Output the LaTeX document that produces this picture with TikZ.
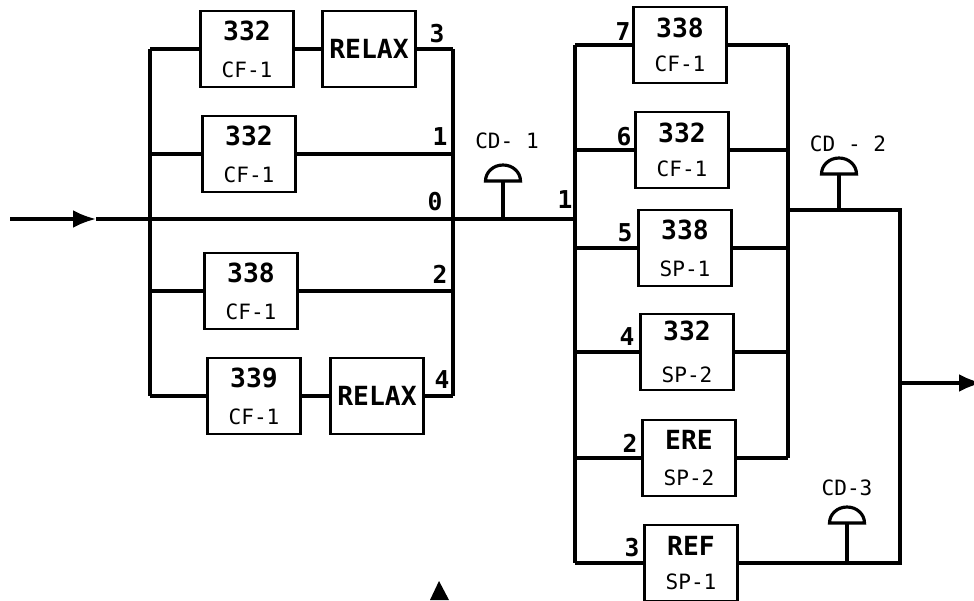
\documentclass[tikz,border=0pt]{standalone}
\usepackage{fontspec}
\setmainfont{DejaVu Sans Mono}
\usetikzlibrary{arrows.meta}
\newcommand\code[1]{{\fontsize{12}{14}\selectfont\mdseries #1}}
\tikzset{
  unit/.style={rectangle, draw, line width=1.6pt, minimum width=1.86cm,
    minimum height=1.52cm, align=center, inner sep=0pt,
    font=\fontsize{15}{18}\selectfont\bfseries},
  num/.style={inner sep=0pt, font=\fontsize{14}{16}\selectfont\bfseries},
  cdlabel/.style={inner sep=0pt, font=\fontsize{12}{14}\selectfont},
  wire/.style={line width=1.8pt},
  arrow/.style={line width=1.8pt, -{Latex[length=13pt, width=10pt]}},
  dome/.pic={\draw[line width=1.8pt, fill=white] (-0.35cm,0)
    arc[start angle=180, end angle=0, x radius=0.35cm, y radius=0.32cm] -- cycle;},
}

\begin{document}
\begin{tikzpicture}[x=0.02cm, y=-0.02cm]
  \useasboundingbox (0,0) rectangle (974,601);

  % left group
  \node[unit] (a1) at (247,49)  {332\\[3pt]\code{CF-1}};
  \node[unit] (r1) at (369,49)  {RELAX};
  \node[unit] (a2) at (249,154) {332\\[3pt]\code{CF-1}};
  \node[unit] (a3) at (251,291) {338\\[3pt]\code{CF-1}};
  \node[unit] (a4) at (254,396) {339\\[3pt]\code{CF-1}};
  \node[unit] (r4) at (377,396) {RELAX};

  \coordinate (lt) at (150,49);
  \coordinate (lb) at (150,396);
  \coordinate (rt) at (453,49);
  \coordinate (rb) at (453,396);

  \node[num] (l3) at (437,34)  {3};
  \node[num] (l1) at (440,137) {1};
  \node[num] (l0) at (435,202) {0};
  \node[num] (l2) at (440,274) {2};
  \node[num] (l4) at (442,380) {4};

  \draw[wire] (lt) -- (lb);
  \draw[wire] (rt) -- (rb);
  \draw[wire] (lt) -- (a1.west);
  \draw[wire] (a1) -- (r1);
  \draw[wire] (r1.east) -- (rt);
  \draw[wire] (a2.west -| lt) -- (a2.west);
  \draw[wire] (a2.east) -- (a2.east -| rt);
  \draw[wire] (a3.west -| lt) -- (a3.west);
  \draw[wire] (a3.east) -- (a3.east -| rt);
  \draw[wire] (lb) -- (a4.west);
  \draw[wire] (a4) -- (r4);
  \draw[wire] (r4.east) -- (rb);

  % main line
  \coordinate (in)  at (10,219);
  \coordinate (mid) at (96,219);
  \draw[arrow] (in) -- (mid);

  % right group
  \node[unit] (b7) at (680,45)  {338\\[1pt]\code{CF-1}};
  \node[unit] (b6) at (682,150) {332\\[1pt]\code{CF-1}};
  \node[unit] (b5) at (685,248) {338\\[3pt]\code{SP-1}};
  \node[unit] (b4) at (687,352) {332\\[6pt]\code{SP-2}};
  \node[unit] (b2) at (689,458) {ERE\\[3pt]\code{SP-2}};
  \node[unit] (b3) at (691,563) {REF\\[1pt]\code{SP-1}};

  \coordinate (bt) at (575,45);
  \coordinate (bb) at (575,563);
  \coordinate (ct) at (788,45);
  \coordinate (cb) at (788,458);

  \node[num] (m7) at (623,32)  {7};
  \node[num] (m6) at (624,137) {6};
  \node[num] (m1) at (565,200) {1};
  \node[num] (m5) at (625,233) {5};
  \node[num] (m4) at (627,337) {4};
  \node[num] (m2) at (630,443) {2};
  \node[num] (m3) at (632,548) {3};

  \draw[wire] (mid) -- (mid -| bt);
  \draw[wire] (bt) -- (bb);
  \draw[wire] (ct) -- (cb);
  \foreach \b in {b7,b6,b5,b4,b2} {
    \draw[wire] (\b.west -| bt) -- (\b.west);
    \draw[wire] (\b.east) -- (\b.east -| ct);
  }
  \draw[wire] (bb) -- (b3.west);

  % output side
  \coordinate (ot)  at (900,210);
  \coordinate (ob)  at (900,563);
  \coordinate (out) at (982,383);
  \draw[wire] (ct |- ot) -- (ot) -- (ob) -- (b3.east);
  \draw[arrow] (out -| ot) -- (out);

  % detectors
  \coordinate (cd1) at (503,181);
  \coordinate (cd2) at (839,174);
  \coordinate (cd3) at (847,523);
  \draw[wire] (cd1) -- (cd1 |- mid);
  \draw[wire] (cd2) -- (cd2 |- ot);
  \draw[wire] (cd3) -- (cd3 |- ob);
  \pic at (cd1) {dome};
  \pic at (cd2) {dome};
  \pic at (cd3) {dome};
  \node[cdlabel] (cd1l) at (507,141) {CD- 1};
  \node[cdlabel] (cd2l) at (848,144) {CD - 2};
  \node[cdlabel] (cd3l) at (847,488) {CD-3};

  \fill (430,600) -- (449,600) -- (439,581) -- cycle;
\end{tikzpicture}
\end{document}
